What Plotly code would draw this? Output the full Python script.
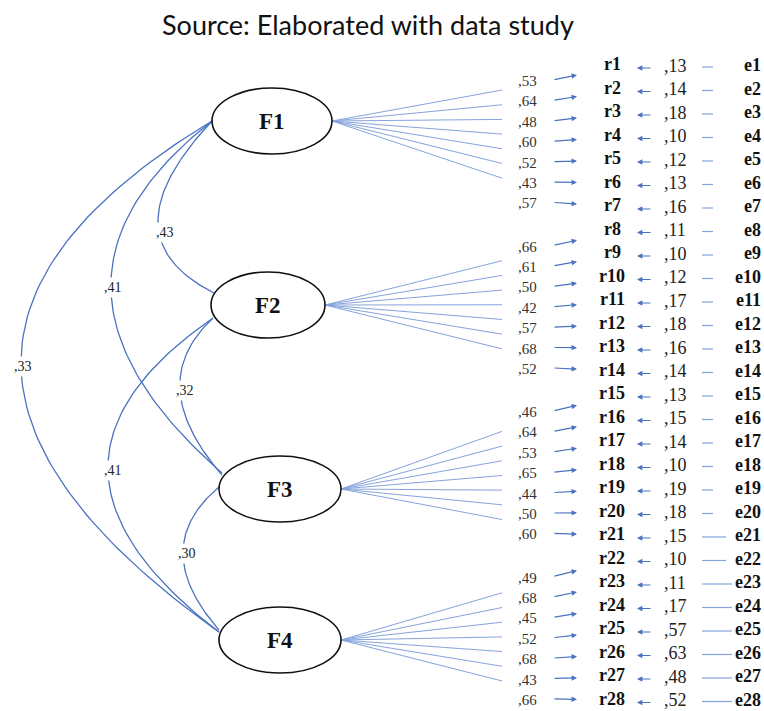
import numpy as np
import plotly.graph_objects as go

# ---------------- data ----------------
factors = ["F1", "F2", "F3", "F4"]
items = [f"r{i}" for i in range(1, 29)]
errors = [f"e{i}" for i in range(1, 29)]
loadings_F1 = [0.53, 0.64, 0.48, 0.60, 0.52, 0.43, 0.57]
loadings_F2 = [0.66, 0.61, 0.50, 0.42, 0.57, 0.68, 0.52]
loadings_F3 = [0.46, 0.64, 0.53, 0.65, 0.44, 0.50, 0.60]
loadings_F4 = [0.49, 0.68, 0.45, 0.52, 0.68, 0.43, 0.66]
error_values = [0.13, 0.14, 0.18, 0.10, 0.12, 0.13, 0.16, 0.11, 0.10, 0.12,
                0.17, 0.18, 0.16, 0.14, 0.13, 0.15, 0.14, 0.10, 0.19, 0.18,
                0.15, 0.10, 0.11, 0.17, 0.57, 0.63, 0.48, 0.52]
corr_pairs = [("F1", "F2"), ("F1", "F3"), ("F1", "F4"),
              ("F2", "F3"), ("F2", "F4"), ("F3", "F4")]
corr_values = [0.43, 0.41, 0.33, 0.32, 0.41, 0.30]
title_text = "Source: Elaborated with data study"

# ---------------- layout constants ----------------
W, H = 764, 711
F_CENTER = {"F1": (272, 121), "F2": (268, 305), "F3": (280, 489), "F4": (280, 640)}
F_RX = {"F1": 60, "F2": 57, "F3": 61, "F4": 61}
F_RY = 33
ROW0, DROW = 64, 23.5
LAB0, DGROUP, DLAB = 81, 165.5, 20.4
BLUE = "#4a72c0"
BLUE_LIGHT = "#86a4dc"
SERIF = "Liberation Serif"

# curve anchor points (start on ellipse, end on ellipse, mid point, label point)
curve_geom = {
    ("F1", "F2"): ((212, 121), (214, 293), (158, 222), (165, 232)),
    ("F1", "F3"): ((212, 121), (222, 473), (111, 290), (113, 287)),
    ("F1", "F4"): ((212, 121), (219, 632), (21, 365), (23, 366)),
    ("F2", "F3"): ((213, 318), (222, 475), (180, 390), (185, 390)),
    ("F2", "F4"): ((213, 318), (219, 632), (108, 470), (113, 470)),
    ("F3", "F4"): ((219, 487), (219, 630), (183, 553), (187, 553)),
}


def fmt(v):
    return "," + f"{v:.2f}".split(".")[1]


all_loadings = [loadings_F1, loadings_F2, loadings_F3, loadings_F4]

fig = go.Figure()
annotations = []
shapes = []

# ---- fan lines from factors to loading labels ----
fx_lines, fy_lines = [], []
for g, f in enumerate(factors):
    cx, cy = F_CENTER[f]
    sx = cx + F_RX[f]
    for k in range(7):
        lab_y = LAB0 + DGROUP * g + DLAB * k
        ey = cy + 0.72 * (lab_y - 3 - cy)
        fx_lines += [sx, 502, None]
        fy_lines += [cy, ey, None]
fig.add_trace(go.Scatter(x=fx_lines, y=fy_lines, mode="lines",
                         line=dict(color=BLUE_LIGHT, width=1), hoverinfo="skip"))

# ---- covariance curves ----
for (a, b), v in zip(corr_pairs, corr_values):
    p0, p2, m, lab = curve_geom[(a, b)]
    p0, p2, m = np.array(p0, float), np.array(p2, float), np.array(m, float)
    c = 2 * m - 0.5 * (p0 + p2)
    t = np.linspace(0, 1, 80)[:, None]
    pts = (1 - t) ** 2 * p0 + 2 * (1 - t) * t * c + t ** 2 * p2
    fig.add_trace(go.Scatter(x=pts[:, 0], y=pts[:, 1], mode="lines",
                             line=dict(color=BLUE, width=1.3), hoverinfo="skip"))
    annotations.append(dict(x=lab[0], y=lab[1], xref="x", yref="y", text=fmt(v),
                            showarrow=False, bgcolor="white", borderpad=2,
                            font=dict(family=SERIF, size=14, color="#222")))

# ---- e lines ----
elx, ely = [], []
for i in range(28):
    ry = ROW0 + DROW * i + 3
    x1 = 713 if i < 20 else (726 if i < 22 else 732)
    elx += [702, x1, None]
    ely += [ry, ry, None]
fig.add_trace(go.Scatter(x=elx, y=ely, mode="lines",
                         line=dict(color=BLUE_LIGHT, width=1.2), hoverinfo="skip"))

# ---- ellipses ----
for f in factors:
    cx, cy = F_CENTER[f]
    shapes.append(dict(type="circle", xref="x", yref="y",
                       x0=cx - F_RX[f], x1=cx + F_RX[f], y0=cy - F_RY, y1=cy + F_RY,
                       line=dict(color="#111", width=1.6), fillcolor="white", layer="above"))
    annotations.append(dict(x=cx, y=cy, xref="x", yref="y", text=f"<b>{f}</b>",
                            showarrow=False, font=dict(family=SERIF, size=23, color="#111")))

# ---- loading labels and arrows ----
for g, f in enumerate(factors):
    for k, v in enumerate(all_loadings[g]):
        idx = g * 7 + k
        lab_y = LAB0 + DGROUP * g + DLAB * k
        row_y = ROW0 + DROW * idx
        annotations.append(dict(x=527, y=lab_y, xref="x", yref="y", text=fmt(v),
                                showarrow=False,
                                font=dict(family=SERIF, size=15, color="#333")))
        head_y = lab_y + 0.35 * (row_y - lab_y)
        annotations.append(dict(x=577, y=head_y, ax=553, ay=lab_y - 1,
                                xref="x", yref="y", axref="x", ayref="y", text="",
                                showarrow=True, arrowhead=2, arrowsize=0.9,
                                arrowwidth=1.2, arrowcolor=BLUE))

# ---- items, error values, errors ----
for i in range(28):
    ry = ROW0 + DROW * i
    annotations.append(dict(x=612, y=ry, xref="x", yref="y", text=f"<b>{items[i]}</b>",
                            showarrow=False, font=dict(family=SERIF, size=18, color="#111")))
    annotations.append(dict(x=662, y=ry + 1.5, xref="x", yref="y", text=fmt(error_values[i]),
                            xanchor="left", showarrow=False,
                            font=dict(family=SERIF, size=18, color="#222")))
    annotations.append(dict(x=763, y=ry + 1, xref="x", yref="y", text=f"<b>{errors[i]}</b>",
                            xanchor="right", showarrow=False,
                            font=dict(family=SERIF, size=18, color="#111")))
    annotations.append(dict(x=637, y=ry + 4, ax=652, ay=ry + 4,
                            xref="x", yref="y", axref="x", ayref="y", text="",
                            showarrow=True, arrowhead=2, arrowsize=0.9,
                            arrowwidth=1.2, arrowcolor=BLUE))

# ---- title ----
annotations.append(dict(x=368, y=24, xref="x", yref="y", text=title_text, showarrow=False,
                        font=dict(family="Lato", size=27, color="#111")))

fig.update_layout(
    width=W, height=H, margin=dict(l=0, r=0, t=0, b=0),
    paper_bgcolor="white", plot_bgcolor="white", showlegend=False,
    xaxis=dict(range=[0, W], visible=False, fixedrange=True),
    yaxis=dict(range=[H, 0], visible=False, fixedrange=True),
    shapes=shapes, annotations=annotations,
)
fig.write_html("out.html", config={"displayModeBar": False},
               post_script="document.body.style.margin='0';document.body.style.overflow='hidden';")
